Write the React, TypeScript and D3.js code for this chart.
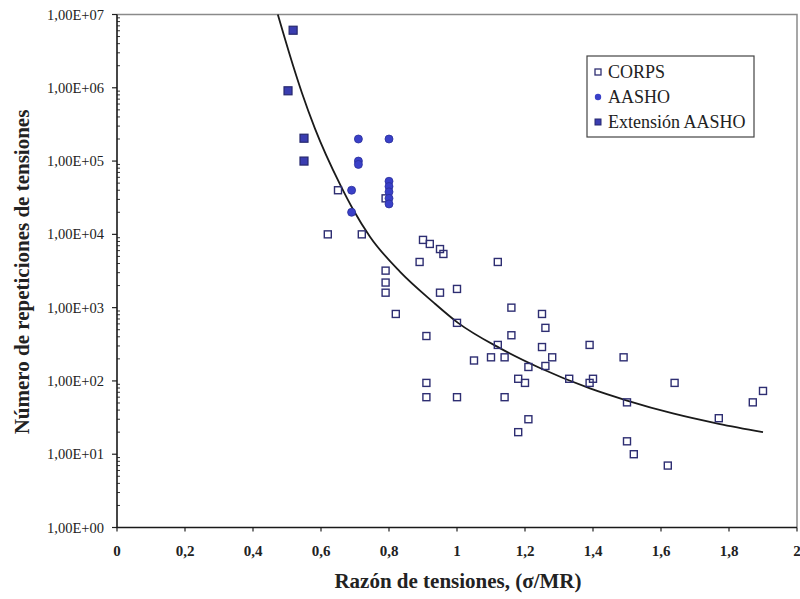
import React, { useEffect, useRef } from "react";
import * as d3 from "d3";

// ratio (sigma/MR) vs repetitions
const corpsX = [0.65, 0.79, 0.62, 0.72, 0.9, 0.92, 0.95, 0.96, 0.89, 1.12, 0.79, 0.79, 0.79, 0.95, 1.0, 0.82, 1.16, 1.25, 1.26, 1.0, 0.91, 1.16, 1.12, 1.25, 1.05, 1.1, 1.14, 1.21, 1.26, 1.28, 1.39, 1.49, 1.33, 1.39, 1.4, 1.18, 1.2, 1.64, 0.91, 0.91, 1.0, 1.14, 1.21, 1.18, 1.5, 1.77, 1.87, 1.9, 1.5, 1.52, 1.62];
const corpsN = [4e4, 3.1e4, 1e4, 1e4, 8.4e3, 7.4e3, 6.3e3, 5.4e3, 4.2e3, 4.2e3, 3.2e3, 2.2e3, 1.6e3, 1.6e3, 1.8e3, 820, 1000, 820, 530, 620, 410, 420, 310, 290, 190, 210, 210, 155, 160, 210, 310, 210, 107, 94, 107, 107, 94, 94, 94, 60, 60, 60, 30, 20, 51, 31, 51, 73, 15, 10, 7];

const aashoX = [0.71, 0.8, 0.71, 0.71, 0.8, 0.8, 0.8, 0.8, 0.8, 0.69, 0.69];
const aashoN = [2e5, 2e5, 1e5, 9e4, 5.3e4, 4.5e4, 3.8e4, 3.1e4, 2.6e4, 4e4, 2e4];

const extX = [0.518, 0.503, 0.55, 0.55];
const extN = [6.1e6, 9.1e5, 2.05e5, 1e5];

// trend line, sampled along the drawn curve
const fitX = [0.473, 0.518, 0.544, 0.582, 0.656, 0.694, 0.744, 0.832, 0.929, 1.003, 1.126, 1.244, 1.391, 1.5, 1.635, 1.77, 1.9];
const fitN = [1e7, 2.0e6, 8.5e5, 2.8e5, 4.8e4, 2.2e4, 9.3e3, 3.1e3, 1.2e3, 620, 280, 150, 79, 54, 36, 26, 20];

const xTicks = [0, 0.2, 0.4, 0.6, 0.8, 1, 1.2, 1.4, 1.6, 1.8, 2];
const yTicks = [1, 10, 100, 1e3, 1e4, 1e5, 1e6, 1e7];
const yTickLabels = ["1,00E+00", "1,00E+01", "1,00E+02", "1,00E+03", "1,00E+04", "1,00E+05", "1,00E+06", "1,00E+07"];
const legendNames = ["CORPS", "AASHO", "Extensión AASHO"];

const W = 800;
const H = 599;
const FONT = "Liberation Serif, Times New Roman, DejaVu Serif, serif";

export default function App() {
  const ref = useRef<SVGSVGElement>(null);

  useEffect(() => {
    const svg = d3.select(ref.current);
    svg.selectAll("*").remove();

    const left = 117, right = 797, top = 14.5, bottom = 527.5;
    const x = d3.scaleLinear().domain([0, 2]).range([left, right]);
    const y = d3.scaleLog().domain([1, 1e7]).range([bottom, top]);

    svg.append("rect").attr("width", W).attr("height", H).attr("fill", "#fff");

    // frame top/right
    svg.append("path")
      .attr("d", `M${left},${top}H${right}V${bottom}`)
      .attr("fill", "none").attr("stroke", "#8a8a8a").attr("stroke-width", 1.5);

    // minor log ticks
    const minor: number[] = [];
    for (let e = 0; e < 7; e++) for (let m = 2; m < 10; m++) minor.push(m * Math.pow(10, e));
    svg.append("g").selectAll("line").data(minor).join("line")
      .attr("x1", left).attr("x2", left + 3)
      .attr("y1", (d) => y(d)).attr("y2", (d) => y(d))
      .attr("stroke", "#333").attr("stroke-width", 1);

    // major y ticks + labels
    const yg = svg.append("g");
    yg.selectAll("line").data(yTicks).join("line")
      .attr("x1", left - 5).attr("x2", left)
      .attr("y1", (d) => y(d)).attr("y2", (d) => y(d))
      .attr("stroke", "#222").attr("stroke-width", 1.2);
    yg.selectAll("text").data(yTicks).join("text")
      .attr("x", 104).attr("y", (d) => y(d)).attr("dy", "0.35em")
      .attr("text-anchor", "end")
      .attr("font-family", FONT).attr("font-size", 14.5).attr("fill", "#222")
      .text((d, i) => yTickLabels[i]);

    // x ticks + labels
    const xg = svg.append("g");
    xg.selectAll("line").data(xTicks).join("line")
      .attr("x1", (d) => x(d)).attr("x2", (d) => x(d))
      .attr("y1", bottom).attr("y2", bottom + 4)
      .attr("stroke", "#222").attr("stroke-width", 1.2);
    xg.selectAll("text").data(xTicks).join("text")
      .attr("x", (d) => x(d)).attr("y", 551).attr("dy", "0.35em")
      .attr("text-anchor", "middle")
      .attr("font-family", FONT).attr("font-size", 15).attr("font-weight", "bold").attr("fill", "#222")
      .text((d) => String(d).replace(".", ","));

    // axes
    svg.append("path")
      .attr("d", `M${left},${top}V${bottom}H${right}`)
      .attr("fill", "none").attr("stroke", "#1a1a1a").attr("stroke-width", 1.6);

    // titles
    svg.append("text")
      .attr("x", 458).attr("y", 581).attr("dy", "0.35em")
      .attr("text-anchor", "middle")
      .attr("font-family", FONT).attr("font-size", 21).attr("font-weight", "bold").attr("fill", "#222")
      .text("Razón de tensiones, (σ/MR)");
    svg.append("text")
      .attr("transform", "translate(22,272) rotate(-90)")
      .attr("dy", "0.35em")
      .attr("text-anchor", "middle")
      .attr("font-family", FONT).attr("font-size", 21).attr("font-weight", "bold").attr("fill", "#222")
      .text("Número de repeticiones de tensiones");

    // trend curve
    const fit = fitX.map((v, i) => [v, fitN[i]] as [number, number]);
    svg.append("path")
      .datum(fit)
      .attr("d", d3.line<[number, number]>()
        .x((d) => x(d[0])).y((d) => y(d[1]))
        .curve(d3.curveMonotoneX))
      .attr("fill", "none").attr("stroke", "#1a1a1a").attr("stroke-width", 1.8);

    // CORPS: open squares
    const corps = corpsX.map((v, i) => [v, corpsN[i]]);
    svg.append("g").selectAll("rect").data(corps).join("rect")
      .attr("x", (d) => x(d[0]) - 3.5).attr("y", (d) => y(d[1]) - 3.5)
      .attr("width", 7).attr("height", 7)
      .attr("fill", "none").attr("stroke", "#2e2e72").attr("stroke-width", 1.4);

    // AASHO: dots
    const aasho = aashoX.map((v, i) => [v, aashoN[i]]);
    svg.append("g").selectAll("circle").data(aasho).join("circle")
      .attr("cx", (d) => x(d[0])).attr("cy", (d) => y(d[1])).attr("r", 4)
      .attr("fill", "#3a40c8").attr("stroke", "#2a2e9a").attr("stroke-width", 0.8);

    // extension: filled squares
    const ext = extX.map((v, i) => [v, extN[i]]);
    svg.append("g").selectAll("rect").data(ext).join("rect")
      .attr("x", (d) => x(d[0]) - 4).attr("y", (d) => y(d[1]) - 4)
      .attr("width", 8).attr("height", 8)
      .attr("fill", "#3a3db0").attr("stroke", "#26286e").attr("stroke-width", 1.2);

    // legend
    const lg = svg.append("g").attr("transform", "translate(587,56)");
    lg.append("rect").attr("width", 167).attr("height", 81)
      .attr("fill", "#fff").attr("stroke", "#444").attr("stroke-width", 1.2);
    const rows = lg.selectAll("g").data(legendNames).join("g")
      .attr("transform", (d, i) => `translate(0,${16 + i * 25})`);
    rows.filter((d, i) => i === 0).append("rect")
      .attr("x", 8).attr("y", -3).attr("width", 6).attr("height", 6)
      .attr("fill", "none").attr("stroke", "#2e2e72").attr("stroke-width", 1.3);
    rows.filter((d, i) => i === 1).append("circle")
      .attr("cx", 11).attr("cy", 0).attr("r", 3.2).attr("fill", "#3a40c8");
    rows.filter((d, i) => i === 2).append("rect")
      .attr("x", 8).attr("y", -3).attr("width", 6).attr("height", 6)
      .attr("fill", "#3a3db0").attr("stroke", "#26286e");
    rows.append("text")
      .attr("x", 21).attr("y", 0).attr("dy", "0.35em")
      .attr("font-family", FONT).attr("font-size", 18).attr("fill", "#222")
      .text((d) => d);
  }, []);

  return (
    <svg ref={ref} width={W} height={H}
      style={{ position: "absolute", left: 0, top: 0, display: "block" }} />
  );
}
